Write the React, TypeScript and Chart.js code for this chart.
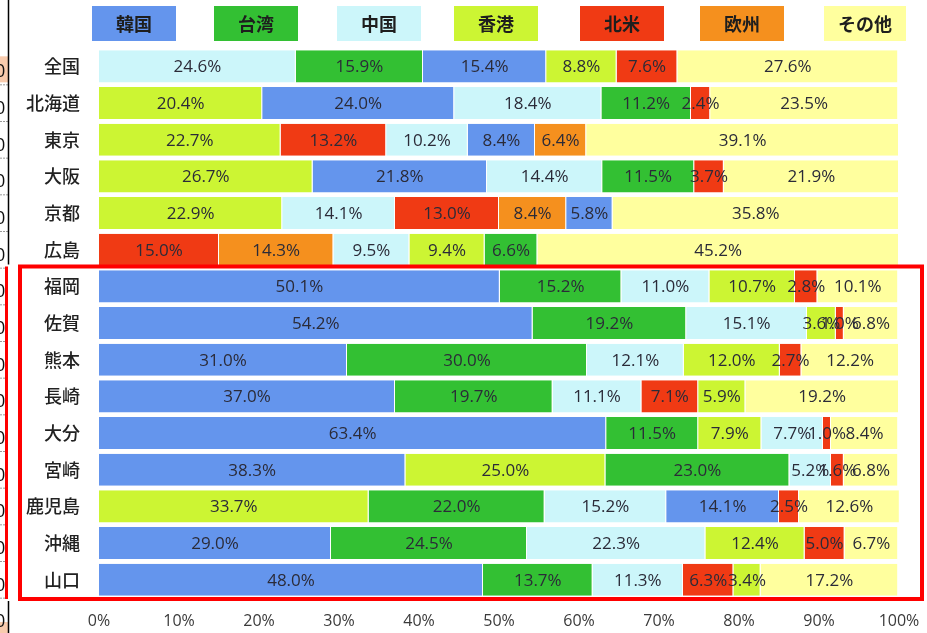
import React, { useEffect, useRef } from "react";
import { Chart, registerables } from "chart.js";

Chart.register(...registerables);

const regions = ["全国", "北海道", "東京", "大阪", "京都", "広島", "福岡", "佐賀", "熊本", "長崎", "大分", "宮崎", "鹿児島", "沖縄", "山口"];
const seriesNames = ["韓国", "台湾", "中国", "香港", "北米", "欧州", "その他"];
const seriesColors = ["#6495ED", "#33C033", "#CCF6FA", "#CCF533", "#F03A14", "#F5901E", "#FFFF9E"];

const korea = [15.4, 24.0, 8.4, 21.8, 5.8, 0, 50.1, 54.2, 31.0, 37.0, 63.4, 38.3, 14.1, 29.0, 48.0];
const taiwan = [15.9, 11.2, 0, 11.5, 0, 6.6, 15.2, 19.2, 30.0, 19.7, 11.5, 23.0, 22.0, 24.5, 13.7];
const china = [24.6, 18.4, 10.2, 14.4, 14.1, 9.5, 11.0, 15.1, 12.1, 11.1, 7.7, 5.2, 15.2, 22.3, 11.3];
const hongKong = [8.8, 20.4, 22.7, 26.7, 22.9, 9.4, 10.7, 3.6, 12.0, 5.9, 7.9, 25.0, 33.7, 12.4, 3.4];
const northAmerica = [7.6, 2.4, 13.2, 3.7, 13.0, 15.0, 2.8, 1.0, 2.7, 7.1, 1.0, 1.6, 2.5, 5.0, 6.3];
const europe = [0, 0, 6.4, 0, 8.4, 14.3, 0, 0, 0, 0, 0, 0, 0, 0, 0];
const others = [27.6, 23.5, 39.1, 21.9, 35.8, 45.2, 10.1, 6.8, 12.2, 19.2, 8.4, 6.8, 12.6, 6.7, 17.2];

// order of segments (left to right) in each region's bar
const segmentOrder = [
  ["中国", "台湾", "韓国", "香港", "北米", "その他"],
  ["香港", "韓国", "中国", "台湾", "北米", "その他"],
  ["香港", "北米", "中国", "韓国", "欧州", "その他"],
  ["香港", "韓国", "中国", "台湾", "北米", "その他"],
  ["香港", "中国", "北米", "欧州", "韓国", "その他"],
  ["北米", "欧州", "中国", "香港", "台湾", "その他"],
  ["韓国", "台湾", "中国", "香港", "北米", "その他"],
  ["韓国", "台湾", "中国", "香港", "北米", "その他"],
  ["韓国", "台湾", "中国", "香港", "北米", "その他"],
  ["韓国", "台湾", "中国", "北米", "香港", "その他"],
  ["韓国", "台湾", "香港", "中国", "北米", "その他"],
  ["韓国", "香港", "台湾", "中国", "北米", "その他"],
  ["香港", "台湾", "中国", "韓国", "北米", "その他"],
  ["韓国", "台湾", "中国", "香港", "北米", "その他"],
  ["韓国", "台湾", "中国", "北米", "香港", "その他"],
];

const xTicks = [0, 10, 20, 30, 40, 50, 60, 70, 80, 90, 100];

const seriesValues = [korea, taiwan, china, hongKong, northAmerica, europe, others];
const legendX = [92, 214, 337, 454, 580, 700, 824];
const legendW = [84, 84, 84, 84, 84, 84, 82];

const JP = '"Noto Sans CJK JP", "Noto Sans", sans-serif';
const NUM = '"Open Sans", "Noto Sans", sans-serif';

const labelPlugin = {
  id: "segLabels",
  afterDatasetsDraw(chart: any) {
    const ctx = chart.ctx;
    ctx.save();
    ctx.font = `17px ${NUM}`;
    ctx.fillStyle = "#2b2b38";
    ctx.textAlign = "center";
    ctx.textBaseline = "middle";
    chart.data.datasets.forEach((ds: any, di: number) => {
      const meta = chart.getDatasetMeta(di);
      meta.data.forEach((el: any, i: number) => {
        const v = ds.data[i];
        if (!v) return;
        const cx = (el.x + el.base) / 2;
        ctx.fillText(v.toFixed(1) + "%", cx, el.y + 1);
      });
    });
    ctx.restore();
  },
};

const decorPlugin = {
  id: "decor",
  beforeDraw(chart: any) {
    const ctx = chart.ctx;
    ctx.save();
    ctx.fillStyle = "#ffffff";
    ctx.fillRect(0, 0, chart.width, chart.height);
    ctx.restore();
  },
  afterDraw(chart: any) {
    const ctx = chart.ctx;
    const yScale = chart.scales.y;
    ctx.save();
    // legend boxes
    seriesNames.forEach((name, i) => {
      ctx.fillStyle = seriesColors[i];
      ctx.fillRect(legendX[i], 6, legendW[i], 35);
      ctx.fillStyle = "#1e1e1e";
      ctx.font = `bold 18px ${JP}`;
      ctx.textAlign = "center";
      ctx.textBaseline = "middle";
      ctx.fillText(name, legendX[i] + legendW[i] / 2, 24);
    });
    // left-edge fragments of a neighbouring table
    const yFirst = yScale.getPixelForValue(6);
    const yLast = yScale.getPixelForValue(regions.length - 1);
    const half = (yScale.getPixelForValue(1) - yScale.getPixelForValue(0)) / 2;
    const redTop = yFirst - half + 0.5;
    const redBottom = yLast + half - 1;
    ctx.fillStyle = "#F8CBAD";
    ctx.fillRect(0, yScale.getPixelForValue(0) - 10, 8, 26);
    ctx.fillRect(0, 622, 8, 11);
    ctx.fillStyle = "#111";
    ctx.font = `18px ${NUM}`;
    ctx.textAlign = "left";
    ctx.textBaseline = "middle";
    for (let i = 0; i <= regions.length; i++) {
      const y = yScale.getPixelForValue(i) + 6;
      ctx.fillText("0", -5, y);
      ctx.strokeStyle = "#999";
      ctx.lineWidth = 1;
      ctx.setLineDash([2, 1]);
      ctx.beginPath();
      ctx.moveTo(0, y + 12.5);
      ctx.lineTo(8, y + 12.5);
      ctx.stroke();
      ctx.setLineDash([]);
    }
    ctx.strokeStyle = "#000";
    ctx.lineWidth = 1.5;
    ctx.beginPath();
    ctx.moveTo(8.5, 0);
    ctx.lineTo(8.5, redTop - 4);
    ctx.moveTo(8.5, redBottom + 4);
    ctx.lineTo(8.5, 633);
    ctx.stroke();
    ctx.strokeStyle = "#FF0000";
    ctx.lineWidth = 3;
    ctx.beginPath();
    ctx.moveTo(6.5, redTop - 2);
    ctx.lineTo(6.5, redBottom + 2);
    ctx.stroke();
    // red highlight rectangle
    ctx.lineWidth = 4;
    ctx.strokeRect(20, redTop - 2, 902, redBottom - redTop + 4);
    ctx.restore();
  },
};

export default function App() {
  const ref = useRef<HTMLCanvasElement>(null);
  useEffect(() => {
    document.body.style.margin = "0";
    const datasets = [0, 1, 2, 3, 4, 5].map((k) => ({
      label: "rank" + k,
      data: regions.map((_, r) => seriesValues[seriesNames.indexOf(segmentOrder[r][k])][r]),
      backgroundColor: regions.map((_, r) => seriesColors[seriesNames.indexOf(segmentOrder[r][k])]),
      borderColor: "rgba(255,255,255,0.7)",
      borderWidth: { left: 0, top: 0, bottom: 0, right: 1 },
      borderSkipped: false,
      barPercentage: 0.875,
      categoryPercentage: 1,
    }));
    const chart = new Chart(ref.current as HTMLCanvasElement, {
      type: "bar",
      data: { labels: regions, datasets },
      options: {
        indexAxis: "y",
        animation: false,
        responsive: false,
        devicePixelRatio: 1,
        layout: { padding: { left: 0, right: 28, top: 48, bottom: 0 } },
        plugins: { legend: { display: false }, tooltip: { enabled: false } },
        scales: {
          x: {
            stacked: true,
            min: 0,
            max: 100,
            afterFit: (s: any) => { s.height = 35; s.paddingLeft = 0; s.paddingRight = 0; },
            afterBuildTicks: (s: any) => { s.ticks = xTicks.map((v) => ({ value: v })); },
            grid: { display: false, drawTicks: false },
            border: { display: false },
            ticks: {
              padding: 14,
              color: "#3a3a3a",
              font: { family: NUM, size: 16 },
              callback: (v: any) => v + "%",
            },
          },
          y: {
            stacked: true,
            afterFit: (s: any) => { s.width = 99; s.paddingTop = 0; s.paddingBottom = 0; },
            grid: { display: false, drawTicks: false },
            border: { display: false },
            ticks: {
              padding: 19,
              color: "#222",
              font: { family: JP, size: 18, weight: "500" as any },
            },
          },
        },
      } as any,
      plugins: [decorPlugin, labelPlugin],
    });
    return () => chart.destroy();
  }, []);
  return (
    <canvas
      ref={ref}
      width={927}
      height={633}
      style={{ position: "absolute", left: 0, top: 0, width: 927, height: 633 }}
    />
  );
}
